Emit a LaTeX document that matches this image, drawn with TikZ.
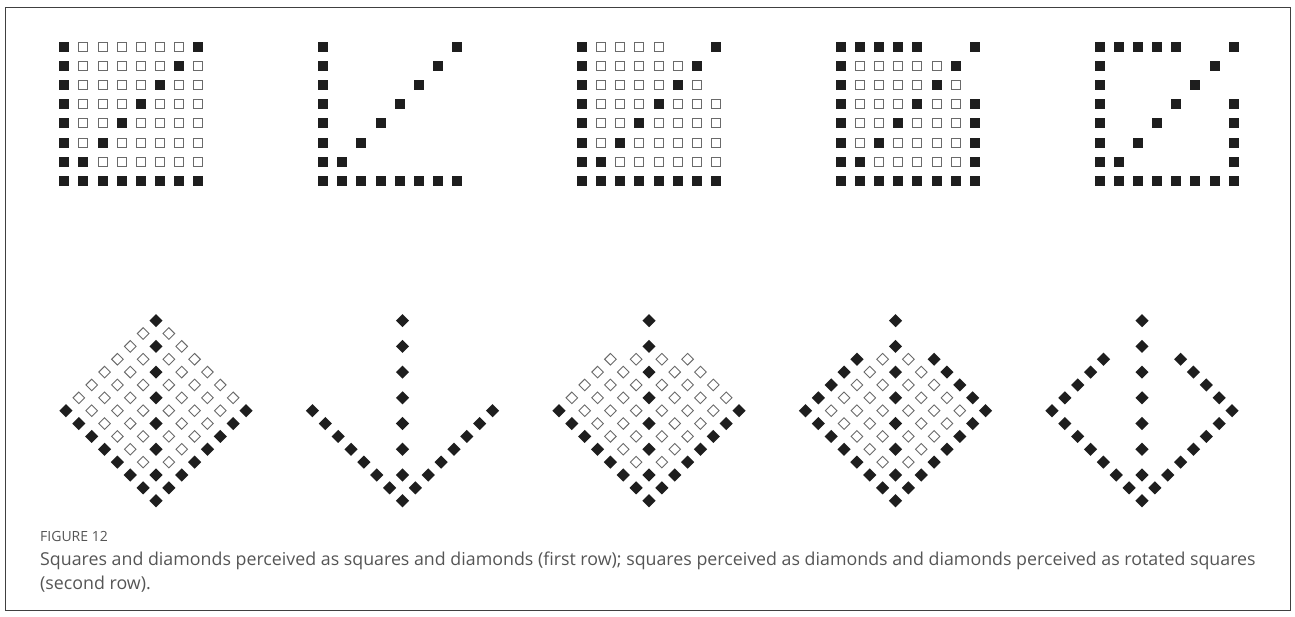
\documentclass[tikz,border=0pt]{standalone}
\usepackage{fontspec}
\setmainfont{Open Sans}
\usetikzlibrary{positioning}
\definecolor{ink}{HTML}{1E1E1E}
\definecolor{rimgray}{HTML}{6A6A6A}
\definecolor{captgray}{HTML}{555555}

\begin{document}
\begin{tikzpicture}[x=1pt,y=-1pt,
  fs/.style={fill=ink,minimum size=10pt,inner sep=0pt},
  os/.style={draw=rimgray,line width=1pt,minimum size=9pt,inner sep=0pt},
  fd/.style={fill=ink,rotate=45,minimum size=9.3pt,inner sep=0pt},
  od/.style={draw=rimgray,line width=0.9pt,rotate=45,minimum size=8.2pt,inner sep=0pt},
  capt/.style={anchor=base west,inner sep=0pt,text=captgray,align=left}]
\useasboundingbox (0,0) rectangle (1295,616);
\draw[black!75,line width=0.8pt] (5,7) rectangle (1290,610);
% first row: squares, second row: the same grids turned into diamonds
\foreach \g in {1,...,5}{
  \foreach \i in {0,...,7}{
    \foreach \j in {0,...,7}{
      \pgfmathtruncatemacro\full{(\i==0)||(\j==7)||(\i+\j==7)||((\g>3)&&(((\j==0)&&(\i<5))||((\i==7)&&(\j>2))))}
      \pgfmathtruncatemacro\void{(\g==2)||(\g==5)||((\g>2)&&(((\j==0)&&(\i>4))||((\i==7)&&(\j<3))))}
      \pgfmathsetmacro\sx{64.3+258.9*(\g-1)+19.1*\i}
      \pgfmathsetmacro\sy{47+19.1*\j}
      \pgfmathsetmacro\dx{156+246.5*(\g-1)+12.86*(\i+\j-7)}
      \pgfmathsetmacro\dy{500.7-12.86*(\i+7-\j)}
      \ifnum\full=1
        \node[fs] (sq-\g-\i-\j) at (\sx,\sy) {};
        \node[fd] (di-\g-\i-\j) at (\dx,\dy) {};
      \else\ifnum\void=0
        \node[os] (sq-\g-\i-\j) at (\sx,\sy) {};
        \node[od] (di-\g-\i-\j) at (\dx,\dy) {};
      \fi\fi
    }
  }
}
\node[capt,font=\fontsize{14}{16}\selectfont] (figno) at (40,541.5) {FIGURE 12};
\node[capt,font=\fontsize{17.8}{24}\selectfont] (caption) at (40,589) {Squares and diamonds perceived as squares and diamonds (first row); squares perceived as diamonds and diamonds perceived as rotated squares\\(second row).};
\end{tikzpicture}
\end{document}
